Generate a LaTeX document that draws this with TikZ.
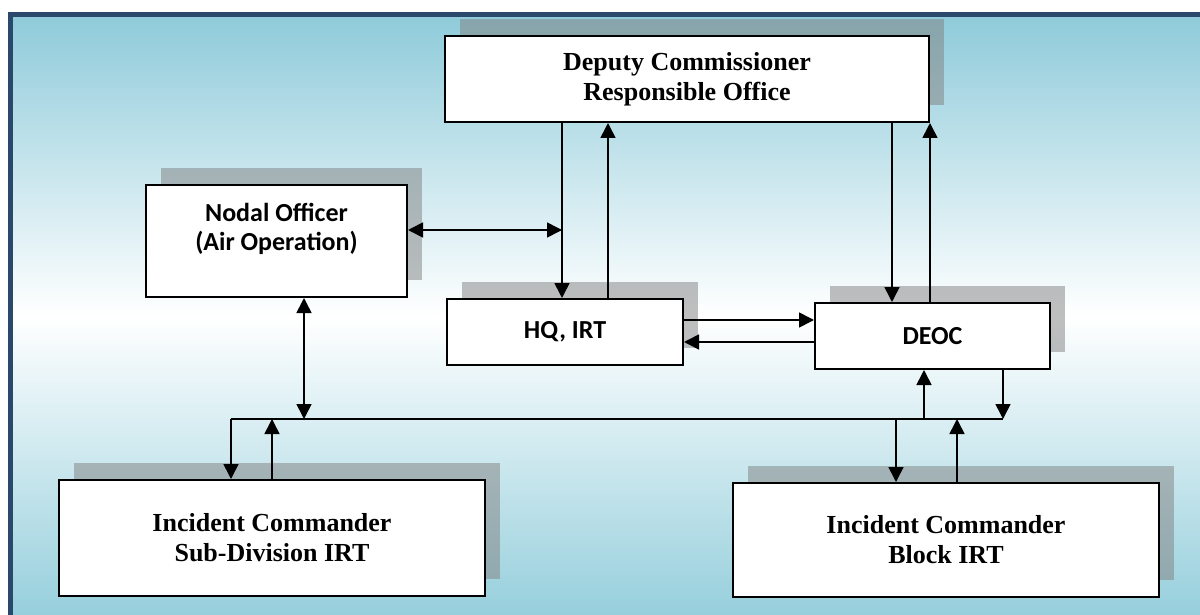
\documentclass[tikz,border=0pt]{standalone}
\usepackage{fontspec}
\newfontfamily\timesbox{Liberation Serif}
\newfontfamily\calibox{Carlito}
\usetikzlibrary{arrows.meta,shadows}
\definecolor{frameblue}{RGB}{42,72,108}
\definecolor{skytop}{RGB}{143,203,218}
\definecolor{skybottom}{RGB}{150,207,220}
\tikzset{>={Triangle[length=7.5pt,width=7.5pt]}}
\tikzset{
  office/.style={draw, line width=1pt, fill=white, align=center, inner sep=0pt,
    drop shadow={shadow xshift=7.5pt, shadow yshift=8.5pt, opacity=0.5, fill=black!50}},
  bigoffice/.style={office, font=\timesbox\bfseries\fontsize{13}{15}\selectfont},
  smalloffice/.style={office, font=\calibox\bfseries\fontsize{13}{14.5}\selectfont},
  link/.style={line width=0.8pt}
}

\begin{document}
\begin{tikzpicture}[x=0.5pt,y=-0.5pt]
    \useasboundingbox (0,0) rectangle (1200,615);
    % page background and frame
    \shade[top color=skytop, bottom color=skybottom, middle color=white] (13,17) rectangle (1200,615);
    \fill[frameblue] (8,12) rectangle (1200,17);
    \fill[frameblue] (8,12) rectangle (13,615);

    % offices
    \node[bigoffice, minimum width=242pt, minimum height=43pt] (deputy) at (687,79) {Deputy Commissioner\\Responsible Office};
    \node[smalloffice, minimum width=130.5pt, minimum height=56pt, text depth=14pt] (nodal) at (276.5,241) {Nodal Officer\\(Air Operation)};
    \node[smalloffice, minimum width=118pt, minimum height=33pt] (hq) at (565,332) {HQ, IRT};
    \node[smalloffice, minimum width=117.5pt, minimum height=33pt] (deoc) at (932.5,336) {DEOC};
    \node[bigoffice, minimum width=213pt, minimum height=58pt] (subdiv) at (272,538) {Incident Commander\\Sub-Division IRT};
    \node[bigoffice, minimum width=213pt, minimum height=57pt] (block) at (946,540) {Incident Commander\\Block IRT};

    % where the lines leave the boxes
    \coordinate (hqin) at ([xshift=-1.5pt]hq.north);
    \coordinate (hqout) at ([xshift=21.5pt]hq.north);
    \coordinate (deocin) at ([xshift=-20.25pt]deoc.north);
    \coordinate (nodalout) at ([yshift=5.5pt]nodal.east);
    \coordinate (hqright) at ([yshift=6pt]hq.east);
    \coordinate (deocleft) at ([yshift=-3pt]deoc.west);
    \coordinate (nodaldown) at ([xshift=13.75pt]nodal.south);
    \coordinate (deocup) at ([xshift=-4.25pt]deoc.south);
    \coordinate (deocdown) at ([xshift=35.25pt]deoc.south);
    \coordinate (blockin) at ([xshift=-25pt]block.north);
    \coordinate (blockout) at ([xshift=5.5pt]block.north);
    \coordinate (busL) at (231,419);

    % top level
    \draw[link,->] (hqin |- deputy.south) -- (hqin);
    \draw[link,->] (hqout) -- (hqout |- deputy.south);
    \draw[link,->] (deocin |- deputy.south) -- (deocin);
    \draw[link,->] (deputy.south east |- deoc.north) -- (deputy.south east);
    \draw[link,<->] (nodalout) -- (nodalout -| hqin);
    \draw[link,->] (hqright) -- (hqright -| deoc.west);
    \draw[link,->] (deocleft) -- (deocleft -| hq.east);

    % common line to the field teams
    \draw[link] (busL) -- (deocdown |- busL);
    \draw[link,<->] (nodaldown) -- (nodaldown |- busL);
    \draw[link,->] (busL) -- (busL |- subdiv.north);
    \draw[link,->] (subdiv.north) -- (subdiv.north |- busL);
    \draw[link,->] (deocup |- busL) -- (deocup);
    \draw[link,->] (deocdown) -- (deocdown |- busL);
    \draw[link,->] (blockin |- busL) -- (blockin);
    \draw[link,->] (blockout) -- (blockout |- busL);
\end{tikzpicture}
\end{document}
